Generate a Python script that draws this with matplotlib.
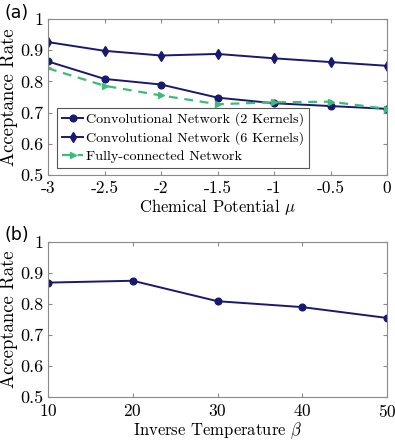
import matplotlib.pyplot as plt

plt.rcParams['font.family'] = ['cmr10', 'DejaVu Serif']
plt.rcParams['mathtext.fontset'] = 'cm'
plt.rcParams['axes.unicode_minus'] = False
plt.rcParams['axes.formatter.use_mathtext'] = True

# 数据 (a)
mu = [-3, -2.5, -2, -1.5, -1, -0.5, 0]
conv2 = [0.864, 0.808, 0.790, 0.748, 0.730, 0.721, 0.712]
conv6 = [0.926, 0.898, 0.883, 0.888, 0.874, 0.862, 0.850]
fc = [0.842, 0.786, 0.755, 0.727, 0.733, 0.735, 0.712]
mu_ticks = ['-3', '-2.5', '-2', '-1.5', '-1', '-0.5', '0']

# 数据 (b)
beta = [10, 20, 30, 40, 50]
acc_b = [0.869, 0.875, 0.809, 0.790, 0.755]

y_ticks = [0.5, 0.6, 0.7, 0.8, 0.9, 1.0]
y_labels = ['0.5', '0.6', '0.7', '0.8', '0.9', '1']

navy = '#191970'
green = '#3dbb7a'
frame = '#8a8a8a'

fig = plt.figure(figsize=(3.95, 4.4), dpi=100)
ax1 = fig.add_axes([48/395, 1 - 175/440, 339/395, 156/440])
ax2 = fig.add_axes([48/395, 1 - 397/440, 339/395, 155/440])


def style(ax):
    for s in ax.spines.values():
        s.set_color(frame)
        s.set_linewidth(0.8)
    ax.tick_params(direction='in', length=3, color=frame,
                   top=True, right=True)
    ax.tick_params(axis='y', labelsize=13, pad=3)
    ax.tick_params(axis='x', labelsize=12.5, pad=4)
    ax.set_yticks(y_ticks)
    ax.set_yticklabels(y_labels)
    ax.set_ylim(0.5, 1.0)
    ax.set_ylabel('Acceptance Rate', fontsize=13.5, labelpad=2)


ax1.plot(mu, conv2, '-o', color=navy, lw=1.4, ms=4.8, label='Convolutional Network (2 Kernels)')
ax1.plot(mu, conv6, '-d', color=navy, lw=1.4, ms=5, label='Convolutional Network (6 Kernels)')
ax1.plot(mu, fc, '-->', color=green, lw=1.6, ms=5, dashes=(4, 3), label='Fully-connected Network')
ax1.set_xlim(-3, 0)
ax1.set_xticks(mu)
ax1.set_xticklabels(mu_ticks)
style(ax1)
ax1.set_xlabel(r'Chemical Potential $\mu$', fontsize=12, labelpad=1)
leg = ax1.legend(loc='lower left', bbox_to_anchor=(0.027, 0.045), fontsize=10.2,
                 fancybox=False, framealpha=1, edgecolor='#555555',
                 handlelength=1.5, handletextpad=0.2, borderpad=0.35,
                 labelspacing=0.35, borderaxespad=0)
leg.get_frame().set_linewidth(0.8)

ax2.plot(beta, acc_b, '-o', color=navy, lw=1.4, ms=4.8)
ax2.set_xlim(10, 50)
ax2.set_xticks(beta)
style(ax2)
ax2.set_xlabel(r'Inverse Temperature $\beta$', fontsize=12, labelpad=1)

fig.text(4/395, 1 - 18/440, '(a)', fontsize=12.5, family='DejaVu Sans')
fig.text(4/395, 1 - 240/440, '(b)', fontsize=12.5, family='DejaVu Sans')

fig.savefig('out.png', dpi=100)
